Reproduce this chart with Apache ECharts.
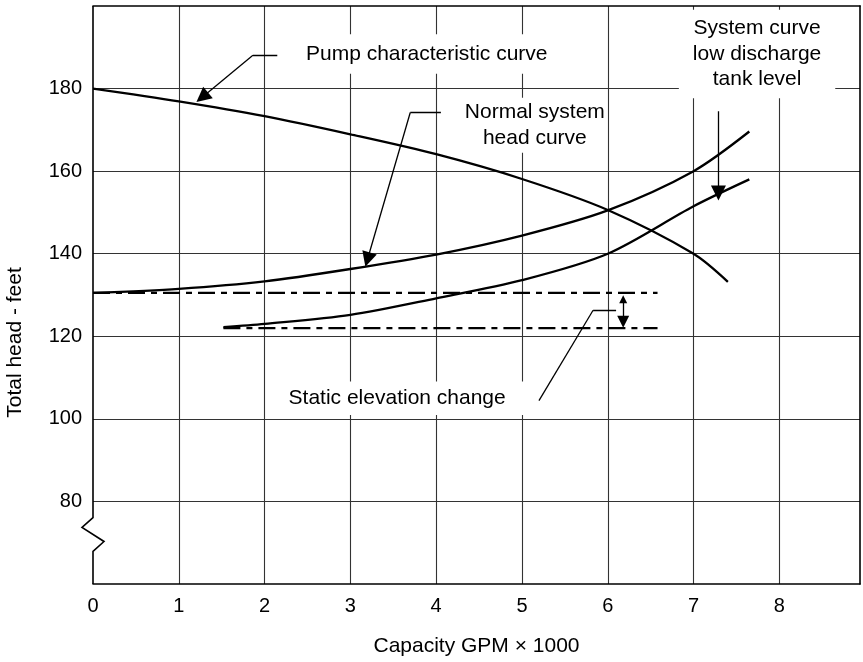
<!DOCTYPE html>
<html><head><meta charset="utf-8">
<script src="https://cdn.jsdelivr.net/npm/echarts@6/dist/echarts.min.js"></script>
<style>html,body{margin:0;padding:0;background:#fff}#c{width:863px;height:662px}</style>
</head><body><div id="c"></div>
<script>
// ---- data ----
const xTickValues = [0,1,2,3,4,5,6,7,8];
const yTickValues = [80,100,120,140,160,180];
const pumpCurve = [[0,180],[1,176.9],[2,173.3],[3,168.9],[4,164.1],[5,158.1],[6,150.6],[7,140],[7.4,133.2]];
const normalSystemCurve = [[0,130.5],[1,131.5],[2,133.3],[3,136.3],[4,139.8],[5,144.4],[6,150.5],[7,160],[7.65,169.6]];
const lowTankCurve = [[1.52,122.2],[2,123],[3,125.2],[4,129.2],[5,133.6],[6,140],[7,151.5],[7.65,158]];
const upperStatic = [[0,130.5],[6.58,130.5]];
const lowerStatic = [[1.52,122],[6.58,122]];
// y-axis break: y values where the zig-zag starts, turns left, turns right, rejoins
const axisBreakY = [76.1, 73.7, 70.3, 67.9];
const leaderPlain = [
  [[2.148,188.1],[1.864,188.1]],
  [[4.055,174.2],[3.698,174.2]],
  [[6.097,126.3],[5.829,126.3]],
  [[5.829,126.3],[5.198,104.4]]
];
const leaderArrow = [
  [[1.864,188.1],[1.273,177.9]],
  [[3.698,174.2],[3.199,138.6]],
  [[7.29,174.5],[7.29,154.7]]
];
const elevationArrow = [[[6.18,129.0],[6.18,123.5]]];
const annotationTexts = ['Pump characteristic curve','Normal system\nhead curve','System curve\nlow discharge\ntank level','Static elevation change'];
const annotationAnchors = [[3.89,188.4],[5.15,171.1],[7.74,188.4],[3.65,105.0]];
const xAxisName = 'Capacity GPM \u00d7 1000';
const yAxisName = 'Total head - feet';

// ---- chart ----
const FONT = '"Liberation Sans", Arial, Helvetica, sans-serif';
const pads = [[7,6],[2,2],[6,14],[4,28,4,10]];
const chart = echarts.init(document.getElementById('c'));
const curveStyle = {color:'#000', width:2.3};
const thin = {color:'#000', width:1.3, opacity:1};
chart.setOption({
  animation:false,
  backgroundColor:'#fff',
  grid:{left:93, right:1, top:6, bottom:77, containLabel:false},
  xAxis:[{
    type:'value', min:0, max:8.94, interval:1, position:'bottom',
    axisLine:{show:true, onZero:false, lineStyle:{color:'#000', width:1.6}},
    axisTick:{show:false},
    axisLabel:{fontSize:20, color:'#000', fontFamily:FONT, margin:12,
      formatter:v => xTickValues.includes(v) ? String(v) : ''},
    splitLine:{show:true, showMinLine:false, showMaxLine:false, lineStyle:{color:'#333', width:1.1}},
    name:xAxisName, nameLocation:'middle', nameGap:52,
    nameTextStyle:{fontSize:21, color:'#000', fontFamily:FONT}
  },{
    type:'value', min:0, max:8.94, position:'top',
    axisLine:{show:true, onZero:false, lineStyle:{color:'#000', width:1.6}},
    axisTick:{show:false}, axisLabel:{show:false}, splitLine:{show:false}
  }],
  yAxis:[{
    type:'value', min:60, max:200, interval:20,
    axisLine:{show:false}, axisTick:{show:false},
    axisLabel:{fontSize:20, color:'#000', fontFamily:FONT, margin:11,
      formatter:v => yTickValues.includes(v) ? String(v) : ''},
    splitLine:{show:true, showMinLine:false, showMaxLine:false, lineStyle:{color:'#333', width:1.1}}
  },{
    type:'value', min:60, max:200, position:'right',
    axisLine:{show:true, onZero:false, lineStyle:{color:'#000', width:1.6}},
    axisTick:{show:false}, axisLabel:{show:false}, splitLine:{show:false}
  }],
  series:[
    {type:'line', name:'Pump characteristic curve', data:pumpCurve, smooth:0.3, symbol:'none', lineStyle:curveStyle, z:3},
    {type:'line', name:'Normal system head curve', data:normalSystemCurve, smooth:0.3, symbol:'none', lineStyle:curveStyle, z:3},
    {type:'line', name:'System curve low discharge tank level', data:lowTankCurve, smooth:0.3, symbol:'none', lineStyle:curveStyle, z:3},
    {type:'line', data:upperStatic, symbol:'none', lineStyle:{color:'#000', width:2.2, type:[17,6,6,6]}, z:3},
    {type:'line', data:lowerStatic, symbol:'none', lineStyle:{color:'#000', width:2.2, type:[17,6,6,6]}, z:3},
    {type:'lines', coordinateSystem:'cartesian2d', symbol:['none','none'],
      lineStyle:thin, data:leaderPlain.map(c => ({coords:c})), z:3},
    {type:'lines', coordinateSystem:'cartesian2d', symbol:['none','triangle'], symbolSize:[8,15],
      lineStyle:thin, itemStyle:{color:'#000'}, data:leaderArrow.map(c => ({coords:c})), z:3},
    {type:'lines', coordinateSystem:'cartesian2d', symbol:['triangle','triangle'], symbolSize:[8,12],
      lineStyle:thin, data:elevationArrow.map(c => ({coords:c})), z:3},
    {type:'scatter', symbolSize:0, silent:true, z:4, itemStyle:{opacity:1},
      data:annotationAnchors.map((v,i) => ({value:v, label:{formatter:annotationTexts[i], padding:pads[i]}})),
      label:{show:true, position:'inside', color:'#000', fontSize:21, lineHeight:25.5, fontFamily:FONT,
        backgroundColor:'#fff', align:'center', verticalAlign:'middle', opacity:1}}
  ]
});
// left axis line with zig-zag break, positioned through the chart's own scale
(function () {
  const toPx = pt => chart.convertToPixel({gridIndex:0}, pt);
  const pTop = toPx([0,200]), pBot = toPx([0,60]);
  const b = axisBreakY.map(y => toPx([0,y]));
  const zig = 11;
  const leftAxisPts = [pTop, b[0], [b[1][0]-zig, b[1][1]], [b[2][0]+zig, b[2][1]], b[3], pBot];
  chart.setOption({
    graphic:[{
      type:'text', x:15, y:342.5, rotation:Math.PI/2,
      style:{text:yAxisName, font:'21px ' + FONT, fill:'#000', textAlign:'center', textVerticalAlign:'middle'}
    },{
      type:'polyline', shape:{points:leftAxisPts}, style:{stroke:'#000', lineWidth:1.6, fill:null}, z:10
    }]
  });
})();
</script></body></html>
